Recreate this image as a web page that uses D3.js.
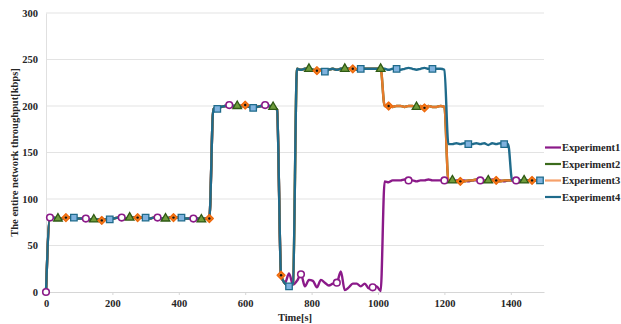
<!DOCTYPE html>
<html>
<head>
<meta charset="utf-8">
<script src="https://cdn.jsdelivr.net/npm/d3@7"></script>
<style>
  body { margin: 0; background: #ffffff; }
  svg { display: block; }
  text { font-family: "Liberation Serif", "Times New Roman", serif; font-weight: bold; fill: #262626; }
</style>
</head>
<body>
<svg id="chart" width="621" height="324"></svg>
<script>
// Throughput samples, one every 12 s from 0 s to 1488 s
const sampleStep = 12;
const sampleCount = 125;

const experiment1 = [
  0, 80, 80, 79, 79, 80, 80, 80, 79, 79,
  79, 78, 78, 78, 78, 78, 78, 79, 80, 80,
  79, 80, 80, 80, 80, 80, 79, 80, 80, 79,
  79, 80, 80, 80, 80, 79, 79, 79, 79, 78,
  79, 79, 197, 197, 199, 200, 201, 200, 200, 200,
  200, 199, 198, 199, 200, 201, 200, 199, 196, 18,
  10, 20, 8, 12, 19, 6, 13, 12, 5, 13,
  10, 7, 9, 10, 22, 2, 5, 9, 9, 6,
  9, 4, 5, 6, 1, 119, 118, 120, 120, 120,
  121, 120, 120, 119, 120, 120, 121, 120, 120, 120,
  120, 120, 119, 120, 120, 120, 119, 120, 120, 120,
  120, 120, 121, 120, 120, 119, 120, 120, 120, 120,
  120, 120, 120, 120, 120
];

const experiment2 = [
  0, 80, 80, 79, 79, 80, 80, 80, 79, 79,
  79, 78, 78, 78, 78, 78, 78, 79, 80, 80,
  79, 80, 80, 80, 80, 80, 79, 80, 80, 79,
  79, 80, 80, 80, 80, 79, 79, 79, 79, 78,
  79, 79, 197, 197, 199, 200, 200, 200, 200, 200,
  200, 199, 198, 199, 200, 200, 200, 199, 196, 18,
  9, 6, 9, 240, 239, 240, 240, 239, 238, 239,
  238, 239, 240, 239, 240, 240, 240, 240, 239, 240,
  240, 240, 240, 240, 240, 200, 200, 199, 200, 200,
  199, 200, 200, 199, 200, 199, 200, 199, 199, 200,
  199, 120, 120, 119, 120, 119, 120, 120, 121, 120,
  119, 120, 120, 120, 119, 120, 120, 120, 120, 119,
  120, 120, 120, 120, 120
];

const experiment3 = [
  0, 80, 80, 79, 79, 80, 80, 80, 79, 79,
  79, 78, 78, 78, 77, 78, 78, 79, 80, 80,
  79, 80, 80, 80, 80, 80, 79, 80, 80, 79,
  79, 80, 80, 80, 80, 79, 79, 79, 79, 78,
  79, 79, 197, 197, 199, 200, 200, 200, 200, 200,
  201, 199, 198, 199, 200, 200, 200, 199, 196, 18,
  9, 6, 9, 240, 239, 240, 240, 239, 238, 239,
  238, 239, 240, 239, 240, 240, 240, 240, 239, 240,
  240, 240, 240, 240, 240, 200, 200, 199, 200, 200,
  199, 200, 200, 199, 200, 198, 200, 199, 199, 200,
  199, 120, 120, 119, 119, 119, 120, 120, 121, 120,
  119, 120, 120, 120, 119, 120, 120, 120, 120, 119,
  120, 120, 120, 120, 120
];

const experiment4 = [
  0, 80, 80, 79, 79, 80, 80, 80, 79, 79,
  79, 78, 78, 78, 78, 78, 78, 79, 80, 80,
  79, 80, 80, 80, 80, 80, 79, 80, 80, 79,
  79, 80, 80, 80, 80, 79, 79, 79, 79, 78,
  79, 79, 197, 197, 199, 200, 200, 200, 200, 200,
  200, 199, 198, 199, 200, 200, 200, 199, 196, 18,
  9, 6, 9, 240, 239, 240, 240, 239, 238, 239,
  237, 239, 240, 239, 240, 240, 240, 240, 239, 240,
  240, 240, 240, 240, 240, 240, 239, 240, 240, 239,
  240, 241, 240, 239, 240, 241, 240, 240, 240, 240,
  239, 159, 159, 160, 159, 160, 159, 159, 160, 159,
  160, 158, 160, 159, 160, 159, 159, 120, 120, 120,
  120, 120, 120, 120, 120
];

// Sample indices that carry a marker on each curve
const markers1 = [0, 1, 10, 19, 28, 37, 46, 55, 64, 73, 82, 91, 100, 109, 118];
const markers2 = [3, 12, 21, 30, 39, 48, 57, 66, 75, 84, 93, 102, 111, 120];
const markers3 = [5, 14, 23, 32, 41, 50, 59, 68, 77, 86, 95, 104, 113, 122];
const markers4 = [7, 16, 25, 34, 43, 52, 61, 70, 79, 88, 97, 106, 115, 124];

const seriesNames = ["Experiment1", "Experiment2", "Experiment3", "Experiment4"];
const xTicks = [0, 200, 400, 600, 800, 1000, 1200, 1400];
const yTicks = [0, 50, 100, 150, 200, 250, 300];

const times = d3.range(sampleCount).map(i => i * sampleStep);

const styles = [
  { line: "#8b1a89", legend: "#8b1a89", shape: "circle",   fill: "#ffffff", stroke: "#8b1a89" },
  { line: "#3b6b1c", legend: "#3b6b1c", shape: "triangle", fill: "#6f9c3c", stroke: "#2f5a14" },
  { line: "#e67a2c", legend: "#f6a06a", shape: "diamond",  fill: "#f47a1a", stroke: "#ee680c" },
  { line: "#1f6b8b", legend: "#1f6b8b", shape: "square",   fill: "#7fb2de", stroke: "#1f6b8b" }
];

const series = [experiment1, experiment2, experiment3, experiment4].map((vals, k) => ({
  name: seriesNames[k],
  points: vals.map((v, i) => ({ t: times[i], v })),
  marks: [markers1, markers2, markers3, markers4][k],
  style: styles[k]
}));

const svg = d3.select("#chart");
const x = d3.scaleLinear().domain([0, 1500]).range([46, 544]);
const y = d3.scaleLinear().domain([0, 300]).range([292, 13]);

// Horizontal gridlines
svg.append("g")
  .selectAll("line")
  .data(yTicks.filter(d => d > 0))
  .join("line")
  .attr("x1", x(0)).attr("x2", x(1500))
  .attr("y1", d => y(d)).attr("y2", d => y(d))
  .attr("stroke", "#e3e3e3").attr("stroke-width", 1);

// Y axis
const yAxis = svg.append("g")
  .attr("transform", `translate(${x(0)},0)`)
  .call(d3.axisLeft(y).tickValues(yTicks).tickSize(0).tickPadding(8));
yAxis.select(".domain").attr("stroke", "#e0e0e0");
yAxis.selectAll("text").attr("font-size", "10.5px").attr("fill", "#262626");

// X axis
const xAxis = svg.append("g")
  .attr("transform", `translate(0,${y(0)})`)
  .call(d3.axisBottom(x).tickValues(xTicks).tickFormat(d3.format("d"))
    .tickSize(3).tickPadding(5).tickSizeOuter(0));
xAxis.select(".domain").attr("stroke", "#d6d6d6");
xAxis.selectAll(".tick line").attr("stroke", "#d6d6d6");
xAxis.selectAll("text").attr("font-size", "10.5px").attr("fill", "#262626");

// Axis titles
svg.append("text")
  .attr("x", (x(0) + x(1500)) / 2).attr("y", 321)
  .attr("text-anchor", "middle").attr("font-size", "10.5px")
  .text("Time[s]");

svg.append("text")
  .attr("transform", `translate(14,${(y(0) + y(300)) / 2}) rotate(-90)`)
  .attr("text-anchor", "middle").attr("dominant-baseline", "central")
  .attr("font-size", "10.5px")
  .text("The entire network throughput[kbps]");

// Curves
const line = d3.line()
  .x(d => x(d.t)).y(d => y(d.v))
  .curve(d3.curveMonotoneX);

svg.append("g")
  .selectAll("path")
  .data(series)
  .join("path")
  .attr("d", s => line(s.points))
  .attr("fill", "none")
  .attr("stroke", s => s.style.line)
  .attr("stroke-width", 2.4)
  .attr("stroke-linejoin", "round");

// Markers
const symbolFor = {
  triangle: d3.symbol().type(d3.symbolTriangle).size(32),
  square: d3.symbol().type(d3.symbolSquare).size(42)
};

function drawMarker(g, shape, st) {
  if (shape === "circle") {
    g.append("circle").attr("r", 3.3)
      .attr("fill", st.fill).attr("stroke", st.stroke).attr("stroke-width", 1.6);
  } else if (shape === "diamond") {
    g.append("path").attr("d", "M0,-4L4,0L0,4L-4,0Z")
      .attr("fill", st.fill).attr("stroke", st.stroke).attr("stroke-width", 1.2)
      .attr("stroke-linejoin", "round");
    g.append("circle").attr("r", 1.2).attr("fill", "#111");
  } else {
    g.append("path").attr("d", symbolFor[shape]())
      .attr("fill", st.fill).attr("stroke", st.stroke).attr("stroke-width", 1.3);
  }
}

const markerLayer = svg.append("g");
series.forEach(s => {
  s.marks.forEach(i => {
    const p = s.points[i];
    const g = markerLayer.append("g")
      .attr("transform", `translate(${x(p.t)},${y(p.v)})`);
    drawMarker(g, s.style.shape, s.style);
  });
});

// Legend
const legend = svg.append("g");
const legendRows = [147.5, 164, 180.5, 197];
series.forEach((s, k) => {
  const ly = legendRows[k];
  legend.append("line")
    .attr("x1", 545).attr("x2", 561).attr("y1", ly).attr("y2", ly)
    .attr("stroke", s.style.legend).attr("stroke-width", 2.2);
  legend.append("text")
    .attr("x", 562).attr("y", ly).attr("dominant-baseline", "central")
    .attr("font-size", "10.5px")
    .text(s.name);
});
</script>
</body>
</html>
